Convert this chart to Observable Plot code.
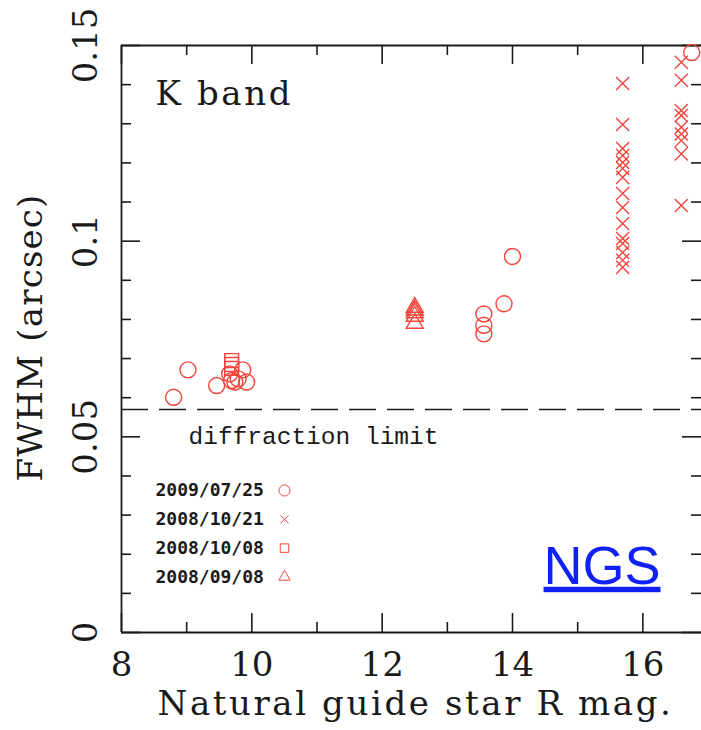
<!DOCTYPE html>
<html><head><meta charset="utf-8">
<script src="https://cdn.jsdelivr.net/npm/d3@7"></script>
<script src="https://cdn.jsdelivr.net/npm/@observablehq/plot@0.6"></script>
<style>html,body{margin:0;padding:0;background:#fff}#chart svg{display:block}</style>
</head><body><div id="chart"></div>
<script>
// ---- data ----
const circMag  = [8.80, 9.02, 9.46, 9.66, 9.69, 9.74, 9.79, 9.86, 9.92, 13.56, 13.56, 13.56, 13.87, 14.00, 16.75];
const circFwhm = [0.0601, 0.0671, 0.0631, 0.0661, 0.0644, 0.0640, 0.0648, 0.0671, 0.0640, 0.0814, 0.0785, 0.0763, 0.0840, 0.0961, 0.1482];
const crossMag  = [15.69,15.69,15.69,15.69,15.69,15.69,15.69,15.69,15.69,15.69,15.69,15.69,15.69,15.69,15.69,
                   16.59,16.59,16.59,16.59,16.59,16.59,16.59,16.59,16.59];
const crossFwhm = [0.1403,0.1298,0.1237,0.1219,0.1201,0.1186,0.1163,0.1122,0.1086,0.1045,0.1007,0.0994,0.0971,0.0951,0.0933,
                   0.1457,0.1411,0.1334,0.1321,0.1291,0.1274,0.1257,0.1223,0.1091];
const squareMag  = [9.69, 9.69, 9.69];
const squareFwhm = [0.0695, 0.0685, 0.0675];
const triMag  = [12.50, 12.50, 12.50, 12.50, 12.50];
const triFwhm = [0.0831, 0.0824, 0.0817, 0.0808, 0.0790];
const diffractionLimit = 0.057;

const xMajor = [8, 10, 12, 14, 16];
const xMinor = [9, 11, 13, 15];
const xTickLabels = ["8", "10", "12", "14", "16"];
const yMajor = [0, 0.05, 0.1, 0.15];
const yMinor = [0.01,0.02,0.03,0.04,0.06,0.07,0.08,0.09,0.11,0.12,0.13,0.14];
const yTickLabels = ["0", "0.05", "0.1", "0.15"];

const legendLabels  = ["2009/07/25", "2008/10/21", "2008/10/08", "2008/09/08"];
const legendSymbols = ["circle", "times", "square", "triangle"];
const legendRadii   = [5.5, 3.8, 4.8, 4.2];

// ---- build ----
const zip = (xs, ys) => xs.map((x, i) => ({mag: x, fwhm: ys[i]}));
const RED = "#f2453b";
const W = 701, H = 730, ML = 121, MR = 0, MT = 45, MB = 98;
const FW = W - ML - MR, FH = H - MT - MB;
const serif = "DejaVu Serif";
const ink = "#1a1a1a";
const T = {lineAnchor: "middle", fill: ink};
const xTitle = "Natural guide star R mag.";
const yTitle = "FWHM (arcsec)";
const bandLabel = "K band";

const legendMarks = [];
legendLabels.forEach((lab, i) => {
  const dy = 445 + i * 28.8;
  legendMarks.push(Plot.text([lab], {...T, frameAnchor: "top-left", dx: 34, dy, text: d => d, textAnchor: "start",
    fontFamily: "DejaVu Sans Mono", fontWeight: "bold", fontSize: 18}));
  legendMarks.push(Plot.dot([lab], {frameAnchor: "top-left", dx: 163, dy, symbol: legendSymbols[i], r: legendRadii[i],
    stroke: RED, strokeWidth: 1, fill: "none"}));
});

const chart = Plot.plot({
  width: W, height: H, marginLeft: ML, marginRight: MR, marginTop: MT, marginBottom: MB,
  x: {domain: [8, 16.9], axis: null},
  y: {domain: [0, 0.15], axis: null},
  style: {background: "#fff", overflow: "visible"},
  marks: [
    // frame
    Plot.ruleX([8], {stroke: ink, strokeWidth: 1.8}),
    Plot.ruleY([0, 0.15], {stroke: ink, strokeWidth: 1.8}),
    // ticks (inward)
    Plot.ruleX(xMajor, {x: d => d, insetTop: FH - 19, stroke: ink, strokeWidth: 1.6}),
    Plot.ruleX(xMinor, {x: d => d, insetTop: FH - 10, stroke: ink, strokeWidth: 1.6}),
    Plot.ruleX(xMajor, {x: d => d, insetBottom: FH - 19, stroke: ink, strokeWidth: 1.6}),
    Plot.ruleX(xMinor, {x: d => d, insetBottom: FH - 10, stroke: ink, strokeWidth: 1.6}),
    Plot.ruleY(yMajor, {y: d => d, insetRight: FW - 19, stroke: ink, strokeWidth: 1.6}),
    Plot.ruleY(yMinor, {y: d => d, insetRight: FW - 10, stroke: ink, strokeWidth: 1.6}),
    Plot.ruleY(yMajor, {y: d => d, insetLeft: FW - 19, stroke: ink, strokeWidth: 1.6}),
    Plot.ruleY(yMinor, {y: d => d, insetLeft: FW - 10, stroke: ink, strokeWidth: 1.6}),
    // tick labels
    Plot.text(xMajor, {...T, x: d => d, frameAnchor: "bottom", dy: 33, textAnchor: "middle", text: (d, i) => xTickLabels[i],
      fontFamily: serif, fontSize: 34}),
    Plot.text(yMajor, {...T, y: d => d, frameAnchor: "left", dx: -35, rotate: -90, textAnchor: "middle", text: (d, i) => yTickLabels[i],
      fontFamily: serif, fontSize: 34}),
    // axis titles
    Plot.text([xTitle], {...T, frameAnchor: "bottom", dx: 4, dy: 72, textAnchor: "middle", text: d => d,
      fontFamily: serif, fontSize: 34}),
    Plot.text([yTitle], {...T, frameAnchor: "left", dx: -90, dy: -1.5, rotate: -90, textAnchor: "middle", text: d => d,
      fontFamily: serif, fontSize: 34}),
    // diffraction limit
    Plot.ruleY([diffractionLimit], {stroke: ink, strokeWidth: 1.6, strokeDasharray: "27,11"}),
    Plot.text(["diffraction limit"], {...T, frameAnchor: "top-left", dx: 67, dy: 391, text: d => d, textAnchor: "start",
      fontFamily: "Liberation Mono", fontSize: 24.5}),
    Plot.text([bandLabel], {...T, frameAnchor: "top-left", dx: 34, dy: 49, text: d => d, textAnchor: "start",
      fontFamily: serif, fontSize: 34}),
    // data
    Plot.dot(zip(triMag, triFwhm), {x: "mag", y: "fwhm", symbol: "triangle", r: 6.3, stroke: RED, strokeWidth: 1.4, fill: "none"}),
    Plot.dot(zip(squareMag, squareFwhm), {x: "mag", y: "fwhm", symbol: "square", r: 7.8, stroke: RED, strokeWidth: 1.4, fill: "none"}),
    Plot.dot(zip(crossMag, crossFwhm), {x: "mag", y: "fwhm", symbol: "times", r: 6, stroke: RED, strokeWidth: 1.4, fill: "none"}),
    Plot.dot(zip(circMag, circFwhm), {x: "mag", y: "fwhm", symbol: "circle", r: 8, stroke: RED, strokeWidth: 1.4, fill: "none"}),
    // legend
    ...legendMarks,
    // NGS label
    Plot.text(["NGS"], {...T, frameAnchor: "top-left", dx: 422, dy: 521, text: d => d, textAnchor: "start",
      fontFamily: "Liberation Sans", fontSize: 54, fill: "#1020fa"})
  ]
});
document.getElementById("chart").appendChild(chart);
const spacing = {[xTitle]: "2.6px", [yTitle]: "1.2px", [bandLabel]: "2.6px"};
d3.select(chart).selectAll("text").each(function() {
  const t = this.textContent;
  if (t === "NGS") d3.select(this).style("text-decoration", "underline");
  if (spacing[t]) d3.select(this).style("letter-spacing", spacing[t]);
});
</script>
</body></html>
